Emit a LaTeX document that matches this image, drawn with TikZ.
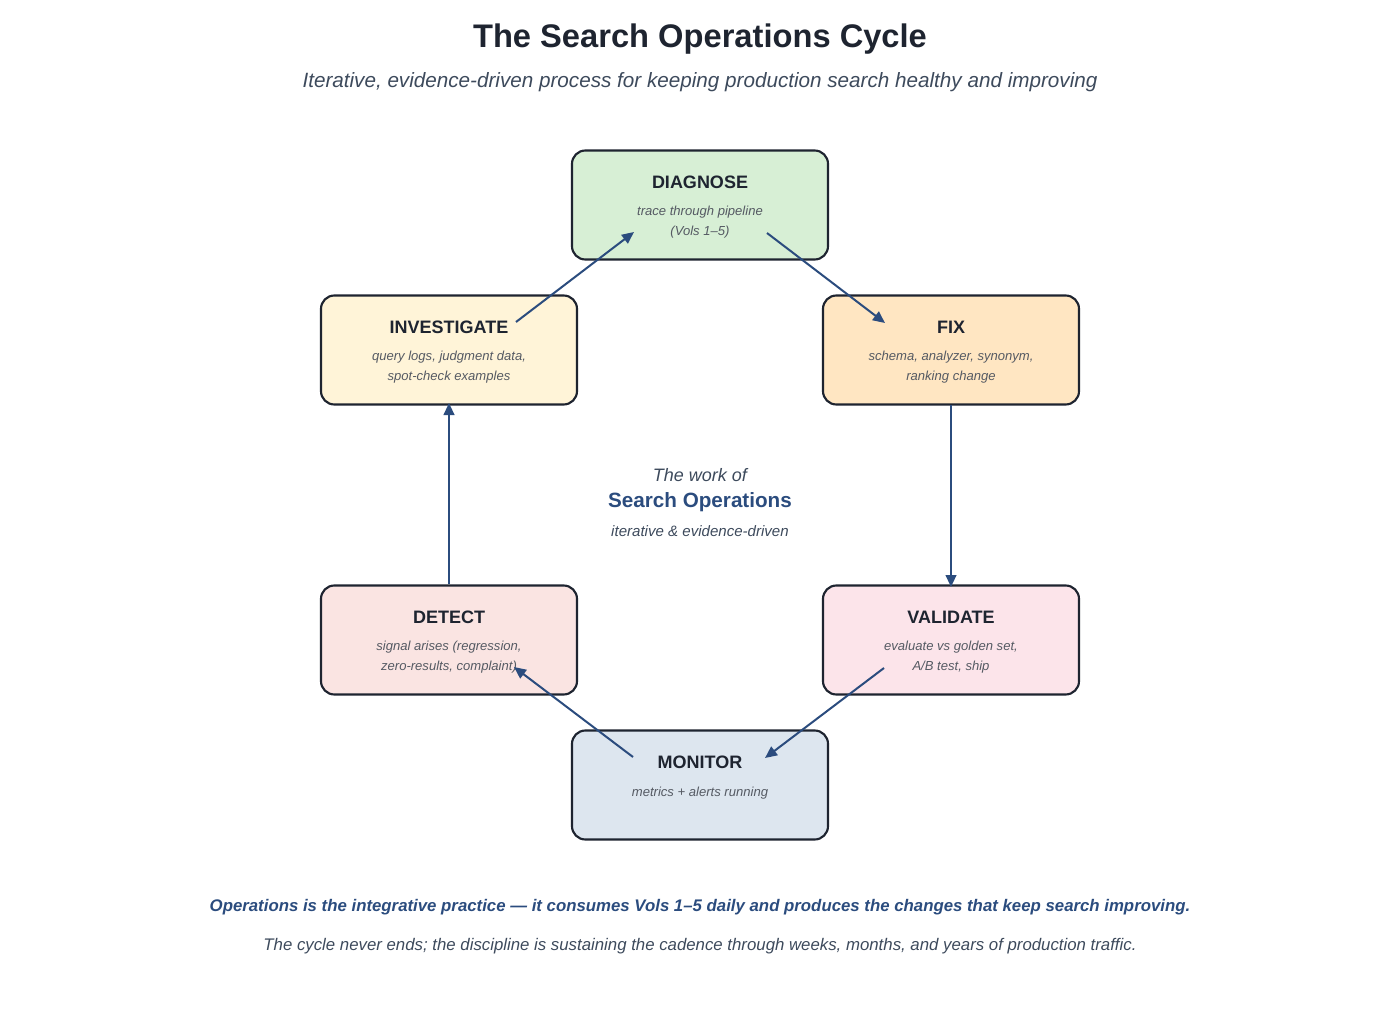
\documentclass[tikz,border=0pt]{standalone}
\usepackage{fontspec}
\setmainfont{Liberation Sans}
\usetikzlibrary{arrows.meta}
\definecolor{ink}{HTML}{1E2430}
\definecolor{sub}{HTML}{3D4A5C}
\definecolor{blu}{HTML}{2B4C7E}
\definecolor{gr}{HTML}{555A63}
\definecolor{cDiag}{HTML}{D7EFD5}
\definecolor{cInv}{HTML}{FFF4D8}
\definecolor{cFix}{HTML}{FFE6C2}
\definecolor{cDet}{HTML}{FAE4E2}
\definecolor{cVal}{HTML}{FCE4EA}
\definecolor{cMon}{HTML}{DDE6EF}
\begin{document}
\begin{tikzpicture}[x=0.75pt,y=-0.75pt,
  box/.style={draw=ink,line width=1.6pt,rounded corners=10pt,minimum width=192pt,minimum height=81.75pt},
  ttl/.style={font=\fontsize{13.5}{16}\selectfont\bfseries,text=ink},
  desc/.style={font=\fontsize{9.8}{15.5}\selectfont\itshape,text=gr,align=center},
  arr/.style={draw=blu,line width=1.5pt,-{Triangle[length=9pt,width=8pt]}}]
\useasboundingbox (0,0) rectangle (1400,1024);
\node[font=\fontsize{24.5}{28}\selectfont\bfseries,text=ink] (title) at (700,39) {The Search Operations Cycle};
\node[font=\fontsize{15.5}{18}\selectfont\itshape,text=sub] (subt) at (700,82) {Iterative, evidence-driven process for keeping production search healthy and improving};

\node[box,fill=cDiag] (diag) at (700,205) {};
\node[box,fill=cInv] (inv) at (449,350) {};
\node[box,fill=cFix] (fix) at (951,350) {};
\node[box,fill=cDet] (det) at (449,640) {};
\node[box,fill=cVal] (val) at (951,640) {};
\node[box,fill=cMon] (mon) at (700,785) {};

\node[ttl] (diagT) at (700,182) {DIAGNOSE};
\node[desc] (diagD) at (700,222) {trace through pipeline\\(Vols 1–5)};
\node[ttl] (invT) at (449,327) {INVESTIGATE};
\node[desc] (invD) at (449,367) {query logs, judgment data,\\spot-check examples};
\node[ttl] (fixT) at (951,327) {FIX};
\node[desc] (fixD) at (951,367) {schema, analyzer, synonym,\\ranking change};
\node[ttl] (detT) at (449,617) {DETECT};
\node[desc] (detD) at (449,657) {signal arises (regression,\\zero-results, complaint)};
\node[ttl] (valT) at (951,617) {VALIDATE};
\node[desc] (valD) at (951,657) {evaluate vs golden set,\\A/B test, ship};
\node[ttl] (monT) at (700,762) {MONITOR};
\node[desc] (monD) at (700,793) {metrics + alerts running};

\node[font=\fontsize{13.5}{16}\selectfont\itshape,text=sub] (c1) at (700,475) {The work of};
\node[font=\fontsize{15.5}{18}\selectfont\bfseries,text=blu] (c2) at (700,502) {Search Operations};
\node[font=\fontsize{11.3}{14}\selectfont\itshape,text=sub] (c3) at (700,531) {iterative \& evidence-driven};

\coordinate (a1) at (516,322); \coordinate (a2) at (634,232);
\coordinate (b1) at (767,233); \coordinate (b2) at (885,323);
\coordinate (c1a) at (951,405); \coordinate (c2a) at (951,587);
\coordinate (d1) at (884,668); \coordinate (d2) at (765,758);
\coordinate (e1) at (633,757); \coordinate (e2) at (514,667);
\coordinate (f1) at (449,584); \coordinate (f2) at (449,403);
\draw[arr] (a1) -- (a2);
\draw[arr] (b1) -- (b2);
\draw[arr] (c1a) -- (c2a);
\draw[arr] (d1) -- (d2);
\draw[arr] (e1) -- (e2);
\draw[arr] (f1) -- (f2);

\node[font=\fontsize{12.6}{15}\selectfont\bfseries\itshape,text=blu] (n1) at (700,907) {Operations is the integrative practice — it consumes Vols 1–5 daily and produces the changes that keep search improving.};
\node[font=\fontsize{12.6}{15}\selectfont\itshape,text=sub] (n2) at (700,946) {The cycle never ends; the discipline is sustaining the cadence through weeks, months, and years of production traffic.};
\end{tikzpicture}
\end{document}
